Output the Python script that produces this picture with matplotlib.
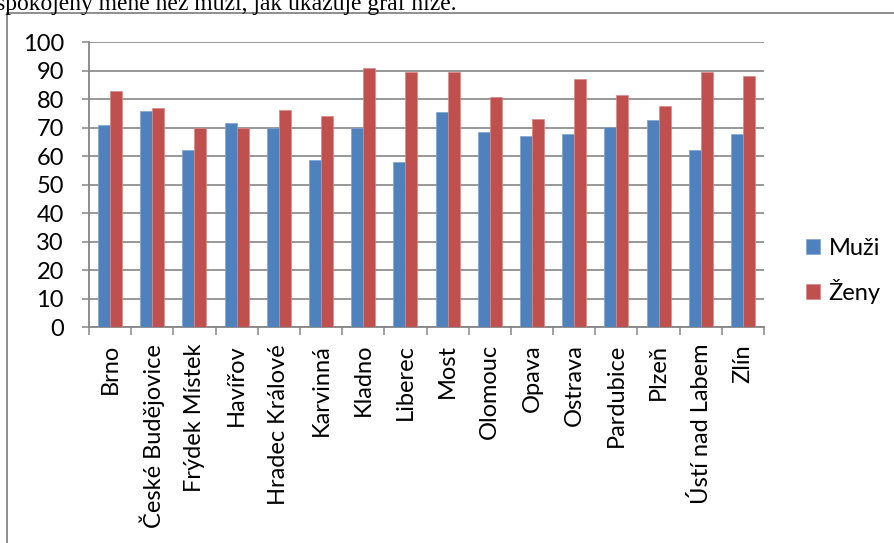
import matplotlib.pyplot as plt
import numpy as np
from matplotlib.lines import Line2D

plt.rcParams['font.family'] = ['Lato', 'DejaVu Sans']

mesta = ['Brno', 'České Budějovice', 'Frýdek Místek', 'Havířov', 'Hradec Králové',
         'Karvinná', 'Kladno', 'Liberec', 'Most', 'Olomouc', 'Opava', 'Ostrava',
         'Pardubice', 'Plzeň', 'Ústí nad Labem', 'Zlín']
muzi = [71.0, 75.8, 62.2, 71.8, 70.1, 58.8, 70.0, 57.9, 75.5, 68.4, 67.2, 67.7,
        70.4, 72.6, 62.1, 67.8]
zeny = [82.9, 76.9, 70.0, 70.0, 76.1, 74.0, 91.1, 89.5, 89.7, 80.7, 73.2, 87.1,
        81.6, 77.5, 89.5, 88.3]
y_ticks = list(range(0, 101, 10))

blue = '#4F81BD'
red = '#C0504D'
grey = '#868686'

fig = plt.figure(figsize=(8.94, 5.43), dpi=100)
ax = fig.add_axes([89 / 894, 1 - 327.3 / 543, (764 - 89) / 894, 285 / 543])

x = np.arange(len(mesta))
w = 0.284
ax.bar(x - w / 2, muzi, w, color=blue, edgecolor='#7FA3D0', linewidth=0.5, label='Muži', zorder=3)
ax.bar(x + w / 2, zeny, w, color=red, edgecolor='#D98A88', linewidth=0.5, label='Ženy', zorder=3)

ax.set_xlim(-0.5, len(mesta) - 0.5)
ax.set_ylim(0, 100)
ax.set_yticks(y_ticks)
ax.set_xticks(x)
ax.set_xticklabels(mesta, rotation=90, fontsize=17)
ax.set_xticks(np.arange(-0.5, len(mesta)), minor=True)
ax.tick_params(axis='x', which='major', length=0, pad=12)
ax.tick_params(axis='x', which='minor', length=6, width=1.1, color=grey)
ax.tick_params(axis='y', length=5, width=1.1, color=grey, pad=13, labelsize=17)

for s in ['top', 'right']:
    ax.spines[s].set_visible(False)
for s in ['left', 'bottom']:
    ax.spines[s].set_color(grey)
    ax.spines[s].set_linewidth(1.3)
ax.grid(axis='y', color=grey, linewidth=1.2, zorder=0)
ax.set_axisbelow(True)

ax.legend(loc='center left', bbox_to_anchor=(806 / 894, 1 - 271 / 543),
          bbox_transform=fig.transFigure, frameon=False, fontsize=17,
          handlelength=0.6, handleheight=0.6, handletextpad=0.35,
          labelspacing=0.85, borderpad=0, borderaxespad=0)

# chart frame (cropped) and the sentence above it
fig.add_artist(Line2D([7 / 894, 7 / 894], [0, 1 - 12.5 / 543], color=grey, linewidth=1.3))
fig.add_artist(Line2D([7 / 894, 1], [1 - 12.5 / 543, 1 - 12.5 / 543], color=grey, linewidth=1.3))
fig.text(-4 / 894, 1 - 10 / 543, 'spokojený méně než muži, jak ukazuje graf níže.',
         family='Liberation Serif', fontsize=17, va='baseline', ha='left')

fig.savefig('out.png', dpi=100)
